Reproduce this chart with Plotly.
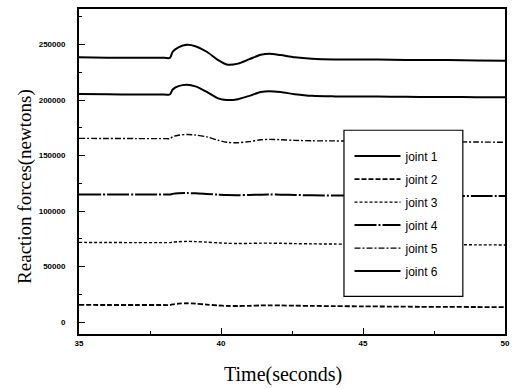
import plotly.graph_objects as go

# Time samples (seconds)
time = [35, 36, 37, 38, 38.2, 38.3, 38.5, 38.8, 39.1, 39.5, 39.9, 40.2, 40.6, 41.0, 41.4, 41.7, 42.1, 42.6, 43.2, 44, 45, 46, 47, 48, 49, 50]

# Reaction forces (newtons)
joint1 = [238500, 238200, 238000, 238000, 238000, 243500, 247500, 249800, 248500, 243500, 236000, 232000, 232800, 236800, 240800, 241800, 240500, 238500, 237200, 236600, 236600, 236200, 236000, 236000, 235700, 235500]
joint2 = [15500, 15400, 15400, 15400, 15400, 16000, 16600, 17000, 16600, 15800, 15000, 14600, 14500, 14700, 15000, 15100, 15000, 14800, 14600, 14400, 14200, 14000, 13800, 13700, 13600, 13500]
joint3 = [71800, 71700, 71600, 71600, 71600, 72000, 72400, 72700, 72500, 72000, 71400, 71000, 70800, 70900, 71100, 71100, 71000, 70700, 70500, 70300, 70100, 69900, 69800, 69700, 69600, 69500]
joint4 = [115000, 114900, 114900, 114900, 114900, 115500, 116000, 116200, 116000, 115400, 114800, 114400, 114300, 114500, 114800, 114900, 114800, 114500, 114200, 114000, 113900, 113800, 113700, 113600, 113600, 113500]
joint5 = [165500, 165400, 165300, 165300, 165300, 167000, 168300, 169000, 168500, 166800, 163800, 162000, 161600, 162600, 164200, 164600, 164300, 163700, 163300, 163200, 163000, 162800, 162600, 162400, 162200, 162000]
joint6 = [205500, 205200, 205000, 205000, 205000, 209500, 212500, 213800, 212300, 207300, 201500, 200000, 200800, 203800, 207300, 208000, 207200, 205300, 203800, 203300, 203200, 203000, 202800, 202700, 202600, 202500]

names = ["joint 1", "joint 2", "joint 3", "joint 4", "joint 5", "joint 6"]
series = [joint1, joint2, joint3, joint4, joint5, joint6]
dashes = ["solid", "5px,2px", "3px,2px", "22px,2px,2px,2px", "6px,2px,2px,2px", "solid"]
widths = [2, 1.8, 1.4, 2, 1.4, 2]

yticks = [0, 50000, 100000, 150000, 200000, 250000]
ylabels = ["0", "50000", "100000", "150000", "200000", "250000"]
xticks = [35, 40, 45, 50]
xlabels = ["35", "40", "45", "50"]

fig = go.Figure()
for i, (n, s) in enumerate(zip(names, series)):
    fig.add_trace(go.Scatter(
        x=time, y=s, name=n, mode="lines",
        line=dict(color="black", width=widths[i], dash=dashes[i], shape="spline", smoothing=0.8),
        legendgroup=n,
    ))

serif = "Liberation Serif, Times New Roman, serif"
sans = "Liberation Sans, Arial, sans-serif"

fig.update_layout(
    width=518, height=389,
    margin=dict(l=79, r=13, t=7, b=55),
    paper_bgcolor="white", plot_bgcolor="white",
    showlegend=True,
    legend=dict(
        x=0.635, y=0.592, xanchor="left", yanchor="top",
        bgcolor="rgba(0,0,0,0)", borderwidth=0,
        font=dict(family=sans, size=12, color="black"),
        tracegroupgap=4, itemwidth=46,
    ),
    shapes=[dict(
        type="rect", xref="paper", yref="paper",
        x0=0.622, x1=0.901, y0=0.116, y1=0.627,
        line=dict(color="black", width=1.2), fillcolor="white", layer="above",
    )],
    annotations=[
        dict(text="Time(seconds)", xref="paper", yref="paper", x=(283 - 79) / 426, y=(334 - 375) / 327,
             xanchor="center", yanchor="middle", showarrow=False,
             font=dict(family=serif, size=20, color="black")),
        dict(text="Reaction forces(newtons)", xref="paper", yref="paper", x=(25 - 79) / 426, y=(334 - 186) / 327,
             xanchor="center", yanchor="middle", showarrow=False, textangle=-90,
             font=dict(family=serif, size=19, color="black")),
    ],
)

fig.update_xaxes(
    range=[35, 50], tickvals=xticks, ticktext=xlabels,
    showline=True, linecolor="black", linewidth=2, mirror=True,
    ticks="inside", ticklen=6, tickcolor="black",
    minor=dict(dtick=2.5, ticks="inside", ticklen=3, tickcolor="black"),
    showgrid=False, zeroline=False,
    tickfont=dict(family=sans, size=8, color="black", weight="bold"),
)
fig.update_yaxes(
    range=[-10700, 282000], tickvals=yticks, ticktext=ylabels,
    showline=True, linecolor="black", linewidth=2, mirror=True,
    ticks="inside", ticklen=6, tickcolor="black",
    minor=dict(dtick=25000, ticks="inside", ticklen=3, tickcolor="black"),
    showgrid=False, zeroline=False,
    ticklabelstandoff=10,
    tickfont=dict(family=sans, size=8, color="black", weight="bold"),
)

fig.write_html("out.html")
